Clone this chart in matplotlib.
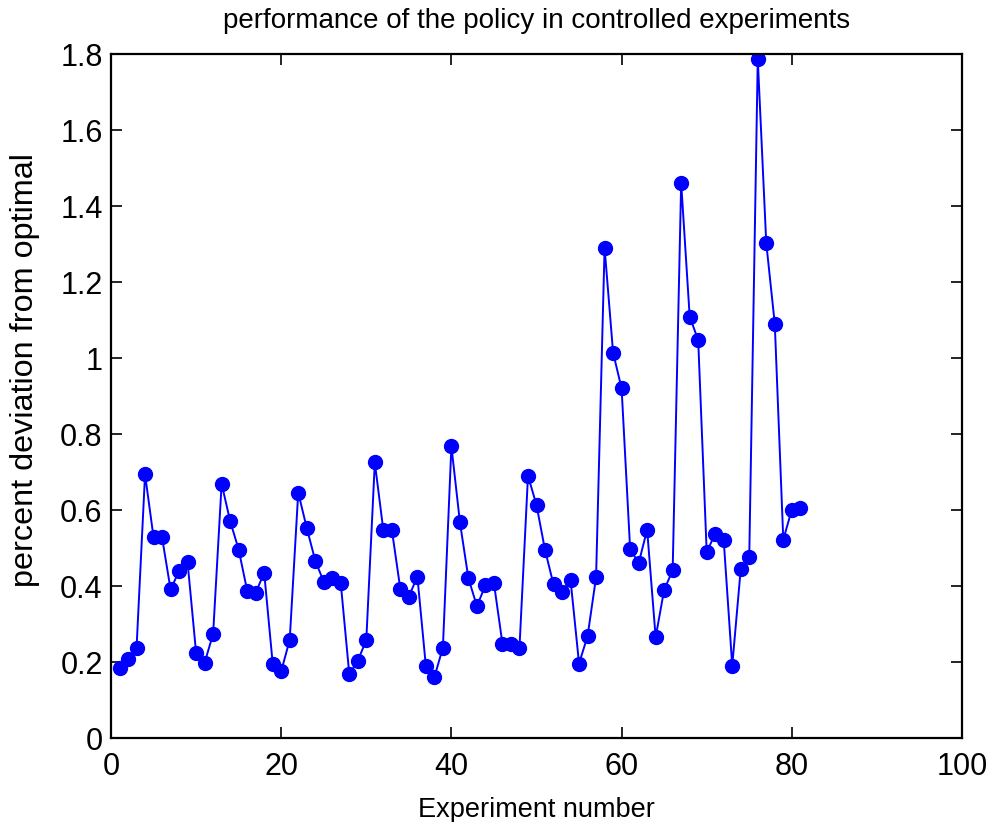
import matplotlib
matplotlib.use("Agg")
import matplotlib.pyplot as plt

plt.rcParams['font.family'] = ['Liberation Sans', 'DejaVu Sans']

experiment = list(range(1, 82))
deviation = [
    0.185, 0.208, 0.236, 0.694, 0.528, 0.528, 0.391, 0.439, 0.462, 0.224,
    0.198, 0.274, 0.669, 0.571, 0.496, 0.388, 0.382, 0.435, 0.196, 0.176,
    0.258, 0.646, 0.553, 0.467, 0.411, 0.421, 0.407, 0.168, 0.203, 0.258,
    0.725, 0.547, 0.548, 0.392, 0.372, 0.425, 0.189, 0.160, 0.238, 0.768,
    0.568, 0.420, 0.347, 0.402, 0.407, 0.248, 0.248, 0.238, 0.690, 0.613,
    0.495, 0.404, 0.384, 0.416, 0.196, 0.268, 0.423, 1.290, 1.014, 0.920,
    0.498, 0.460, 0.548, 0.265, 0.390, 0.441, 1.461, 1.109, 1.047, 0.489,
    0.538, 0.520, 0.190, 0.445, 0.476, 1.787, 1.302, 1.090, 0.522, 0.601,
    0.604,
]
x_ticks = [0, 20, 40, 60, 80, 100]
y_ticks = [0, 0.2, 0.4, 0.6, 0.8, 1.0, 1.2, 1.4, 1.6, 1.8]
y_tick_labels = ["0", "0.2", "0.4", "0.6", "0.8", "1", "1.2", "1.4", "1.6", "1.8"]

fig = plt.figure(figsize=(9.94, 8.22), dpi=100)
ax = fig.add_axes([111/994, 84/822, 851/994, 684/822])
ax.plot(experiment, deviation, '-o', color=(0, 0, 1), lw=1.4,
        markersize=10, markeredgecolor=(0, 0, 1), markerfacecolor=(0, 0, 1))
ax.set_xlim(0, 100)
ax.set_ylim(0, 1.8)
ax.set_xticks(x_ticks)
ax.set_xticklabels([str(t) for t in x_ticks])
ax.set_yticks(y_ticks)
ax.set_yticklabels(y_tick_labels)
ax.tick_params(direction='in', length=8, width=1.2, labelsize=22,
               top=True, right=True)
ax.tick_params(axis='x', pad=10)
ax.tick_params(axis='y', pad=6)
for s in ax.spines.values():
    s.set_linewidth(1.6)
ax.set_title("performance of the policy in controlled experiments",
             fontsize=20, pad=19)
ax.set_xlabel("Experiment number", fontsize=19.5, labelpad=11)
ax.set_ylabel("percent deviation from optimal", fontsize=23.3)
ax.yaxis.set_label_coords(-0.084, 0.538)

fig.savefig("out.png", dpi=100)
